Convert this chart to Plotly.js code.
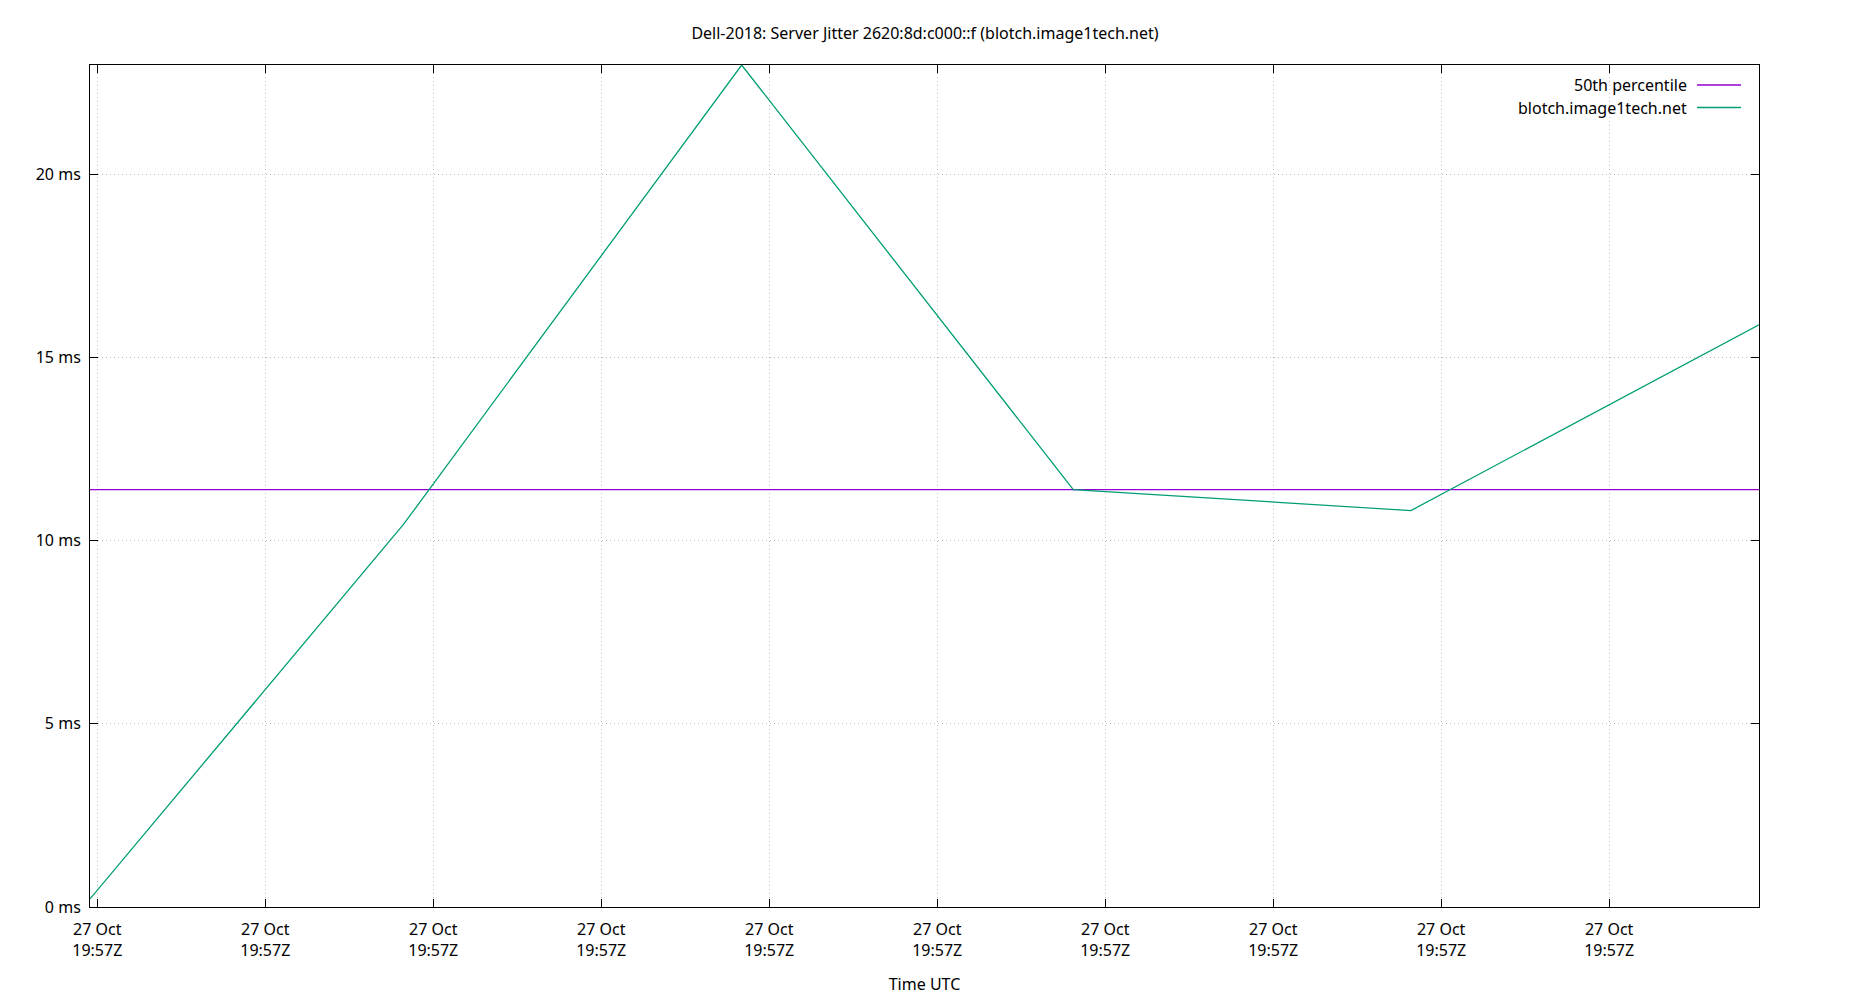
<!DOCTYPE html>
<html><head><meta charset="utf-8">
<script src="https://cdn.plot.ly/plotly-3.0.1.min.js"></script>
<style>html,body{margin:0;padding:0;background:#fff}#chart{width:1850px;height:1000px}</style>
</head><body><div id="chart"></div>
<script>
const times = ["2018-10-27 19:56:59.783", "2018-10-27 19:57:09.113", "2018-10-27 19:57:19.180", "2018-10-27 19:57:29.050", "2018-10-27 19:57:39.100", "2018-10-27 19:57:49.460"];
const jitterMs = [0.22, 10.44, 22.98, 11.39, 10.82, 15.89];
const percentile50Ms = 11.39;
const seriesNames = ["50th percentile", "blotch.image1tech.net"];
const seriesColors = ["#9400d3", "#009e73"];
const yTickValues = [0, 5, 10, 15, 20];
const yTickLabels = ["0 ms", "5 ms", "10 ms", "15 ms", "20 ms"];
const titleText = "Dell-2018: Server Jitter 2620:8d:c000::f (blotch.image1tech.net)";
const xTitleText = "Time UTC";

const FONT = "Noto Sans, Open Sans, sans-serif";
const W = 1850, H = 1000;
const M = {l: 90, r: 91, t: 65, b: 93};
const pw = W - M.l - M.r, ph = H - M.t - M.b;

const traces = [
  {x: [times[0], times[times.length - 1]], y: [percentile50Ms, percentile50Ms], name: seriesNames[0],
   type: "scatter", mode: "lines", line: {color: seriesColors[0], width: 1.3}, showlegend: false},
  {x: times, y: jitterMs, name: seriesNames[1], type: "scatter", mode: "lines",
   line: {color: seriesColors[1], width: 1.3}, showlegend: false}
];

// custom gnuplot-style legend (text right-aligned, sample to the right)
const legendTextX = (1689 - M.l) / pw;
const sampleX0 = (1697 - M.l) / pw, sampleX1 = (1741 - M.l) / pw;
const rowY = [1 - (85 - M.t) / ph, 1 - (107.5 - M.t) / ph];
const annotations = seriesNames.map((n, i) => ({
  xref: "paper", yref: "paper", x: legendTextX, y: rowY[i], xanchor: "right", yanchor: "middle",
  text: n, showarrow: false, font: {family: FONT, size: 16, color: "#000"}
}));
const shapes = seriesNames.map((n, i) => ({
  type: "line", xref: "paper", yref: "paper", x0: sampleX0, x1: sampleX1, y0: rowY[i], y1: rowY[i],
  line: {color: seriesColors[i], width: 1.3}
}));

const layout = {
  width: W, height: H,
  margin: M,
  paper_bgcolor: "#fff", plot_bgcolor: "#fff",
  font: {family: FONT, size: 16, color: "#000"},
  title: {text: titleText, x: 0.5, xanchor: "center", y: 1 - 33 / H, yanchor: "middle",
          font: {family: FONT, size: 16, color: "#000"}},
  xaxis: {
    type: "date", range: [times[0], times[times.length - 1]],
    tick0: "2018-10-27 19:57:00", dtick: 5000, tickformat: "%d %b<br>%H:%MZ",
    ticks: "inside", ticklen: 8, tickcolor: "#000", tickwidth: 1, ticklabelstandoff: 8,
    showline: true, linecolor: "#000", linewidth: 1, mirror: "ticks",
    showgrid: true, gridcolor: "#bdbdbd", griddash: "1px,3px", gridwidth: 1,
    zeroline: false, automargin: false,
    tickfont: {family: FONT, size: 16, color: "#000"},
    title: {text: xTitleText, standoff: 18, font: {family: FONT, size: 16, color: "#000"}}
  },
  yaxis: {
    range: [0, Math.max(...jitterMs)],
    tickmode: "array", tickvals: yTickValues, ticktext: yTickLabels,
    ticks: "inside", ticklen: 8, tickcolor: "#000", tickwidth: 1, ticklabelstandoff: 5,
    showline: true, linecolor: "#000", linewidth: 1, mirror: "ticks",
    showgrid: true, gridcolor: "#bdbdbd", griddash: "1px,3px", gridwidth: 1,
    zeroline: false, automargin: false,
    tickfont: {family: FONT, size: 16, color: "#000"}
  },
  annotations: annotations,
  shapes: shapes
};

Plotly.newPlot("chart", traces, layout, {displayModeBar: false, staticPlot: true});
</script>
</body></html>
